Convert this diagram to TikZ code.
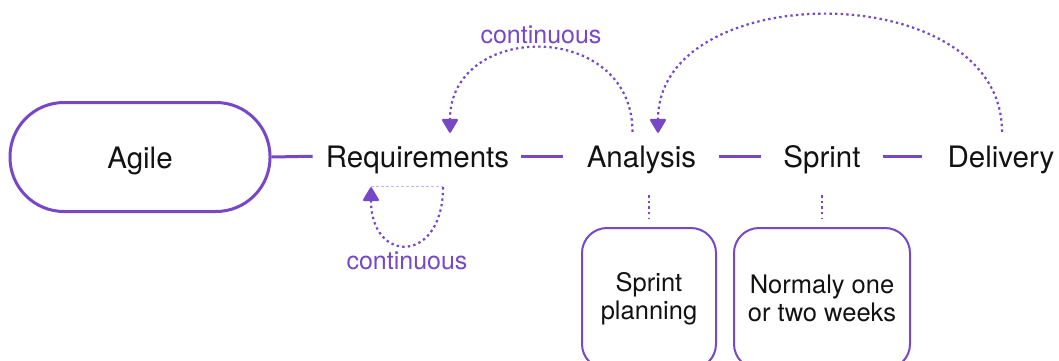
\documentclass[tikz,border=0pt]{standalone}
\usepackage{fontspec}
\setmainfont{TeX Gyre Heros}
\usetikzlibrary{arrows.meta,calc}
\definecolor{brand}{RGB}{118,72,200}
\definecolor{brandlight}{RGB}{198,180,240}
\definecolor{ink}{RGB}{18,18,18}

\begin{document}
\begin{tikzpicture}[x=1pt,y=-1pt,
  stage/.style={inner sep=0pt, text height=22pt, text depth=0pt,
    font=\fontsize{29.5}{35}\selectfont, text=ink},
  rootbox/.style={draw=brand, line width=3pt, rounded corners=54pt,
    minimum width=260pt, minimum height=109pt, inner sep=0pt,
    text height=22pt, text depth=0pt,
    font=\fontsize{29.5}{35}\selectfont, text=ink},
  infobox/.style={draw=brand, line width=2pt, rounded corners=25pt,
    minimum height=141pt, inner sep=0pt, align=center,
    font=\fontsize{25.5}{28}\selectfont, text=ink},
  note/.style={inner sep=0pt, font=\fontsize{25}{30}\selectfont, text=brand},
  link/.style={draw=brand, line width=3pt},
  tick/.style={draw=brand, line width=2pt, dash pattern=on 2.4pt off 3.2pt},
  cycle/.style={draw=brand, line width=2.2pt, dash pattern=on 2.4pt off 3.2pt,
    -{Triangle[length=15pt,width=17pt,round,fill=brand]}},
  guide/.style={draw=brandlight, line width=0.8pt, dash pattern=on 3pt off 2pt},
]
\clip (0,0) rectangle (1059,360);

% main chain
\node[rootbox] (agile) at (140,157) {Agile};
\node[stage] (req) at (417.5,156) {Requirements};
\node[stage] (ana) at (641.5,156) {Analysis};
\node[stage] (spr) at (822,156) {Sprint};
\node[stage] (del) at (1001,156) {Delivery};

\draw[link, shorten >=13pt] (agile.east) -- (req.west);
\draw[link, shorten <=12pt, shorten >=24pt] (req.east) -- (ana.west);
\draw[link, shorten <=23pt, shorten >=22pt] (ana.east) -- (spr.west);
\draw[link, shorten <=22pt, shorten >=25pt] (spr.east) -- (del.west);

% detail boxes
\node[infobox, minimum width=134pt] (plan) at (649,298.5) {Sprint\\planning};
\node[infobox, minimum width=176pt] (dur) at (822,298.5) {Normaly one\\or two weeks};

\draw[tick, shorten <=28pt, shorten >=8pt] (plan.north |- ana.south) -- (plan.north);
\draw[tick, shorten <=28pt, shorten >=8pt] (dur.north |- spr.south) -- (dur.north);

% feedback loops
\coordinate (a1s) at ($(ana.north)+(-9,-13)$);
\coordinate (a1e) at ($(req.north)+(32.5,-12)$);
\coordinate (a2s) at ($(del.north)+(1,-13)$);
\coordinate (a2e) at ($(ana.north)+(16.5,-12)$);
\coordinate (l1s) at ($(req.south)+(25.5,20)$);
\coordinate (l1e) at ($(req.south)+(-46.5,20)$);

\draw[cycle] (a1s) .. controls ($(a1s)+(0,-112)$) and ($(a1e)+(0,-112)$) .. (a1e);
\draw[cycle] (a2s) .. controls ($(a2s)+(0,-156)$) and ($(a2e)+(0,-156)$) .. (a2e);
\draw[guide] ($(l1e)+(0,-1)$) -- ($(l1s)+(0,-1)$);
\draw[cycle] (l1s) .. controls ($(l1s)+(0,77)$) and ($(l1e)+(0,77)$) .. (l1e);

\node[note, anchor=base] (top) at (541,43) {continuous};
\node[note, anchor=base] (bottom) at (407,269) {continuous};
\end{tikzpicture}
\end{document}
